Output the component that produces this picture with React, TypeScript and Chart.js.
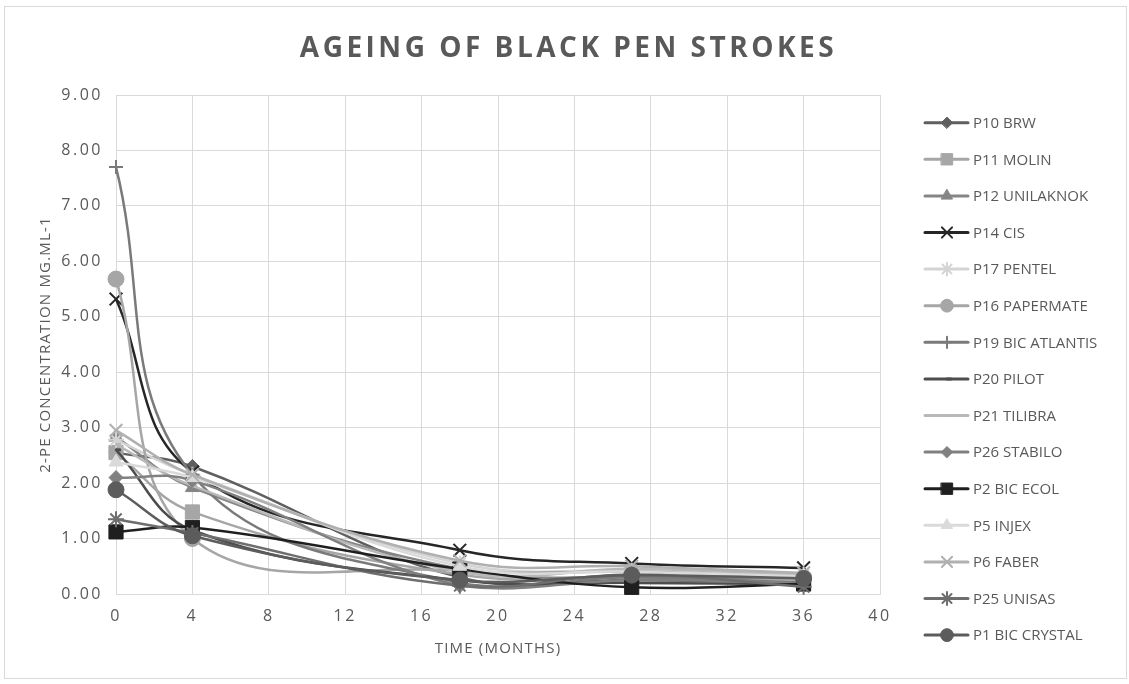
import React, { useEffect, useRef } from 'react';
import { Chart, registerables, PointElement } from 'chart.js';

Chart.register(...registerables);

// Sampling times (months)
const months = [0, 4, 18, 27, 36];

// 2-PE concentration (mg/mL) per pen, one value per sampling time
const p10Brw = [2.55, 2.3, 0.3, 0.25, 0.22];
const p11Molin = [2.55, 1.48, 0.35, 0.3, 0.25];
const p12Unilaknok = [2.83, 1.92, 0.45, 0.3, 0.3];
const p14Cis = [5.32, 2.2, 0.79, 0.55, 0.47];
const p17Pentel = [2.78, 2.15, 0.55, 0.42, 0.35];
const p16Papermate = [5.68, 1.0, 0.42, 0.4, 0.3];
const p19BicAtlantis = [7.7, 2.15, 0.2, 0.3, 0.2];
const p20Pilot = [2.6, 1.15, 0.25, 0.2, 0.18];
const p21Tilibra = [2.7, 1.95, 0.4, 0.45, 0.35];
const p26Stabilo = [2.1, 2.05, 0.15, 0.25, 0.2];
const p2BicEcol = [1.12, 1.2, 0.45, 0.12, 0.18];
const p5Injex = [2.38, 2.1, 0.5, 0.4, 0.32];
const p6Faber = [2.95, 2.15, 0.6, 0.5, 0.38];
const p25Unisas = [1.35, 1.1, 0.15, 0.35, 0.13];
const p1BicCrystal = [1.88, 1.05, 0.25, 0.34, 0.28];

const seriesNames = [
  'P10 BRW', 'P11 MOLIN', 'P12 UNILAKNOK', 'P14 CIS', 'P17 PENTEL',
  'P16 PAPERMATE', 'P19 BIC ATLANTIS', 'P20 PILOT', 'P21 TILIBRA', 'P26 STABILO',
  'P2 BIC ECOL', 'P5 INJEX', 'P6 FABER', 'P25 UNISAS', 'P1 BIC CRYSTAL',
];
const seriesValues = [
  p10Brw, p11Molin, p12Unilaknok, p14Cis, p17Pentel,
  p16Papermate, p19BicAtlantis, p20Pilot, p21Tilibra, p26Stabilo,
  p2BicEcol, p5Injex, p6Faber, p25Unisas, p1BicCrystal,
];

const chartTitle = 'AGEING OF BLACK PEN STROKES';
const xTitle = 'TIME (MONTHS)';
const yTitle = '2-PE CONCENTRATION MG.ML-1';

// Drawing styles (grey-scale palette and marker shapes)
const seriesStyles = [
  { color: '#5f5f5f', marker: 'rectRot', r: 7, bw: 1 },
  { color: '#a6a6a6', marker: 'rect', r: 10, bw: 1 },
  { color: '#858585', marker: 'triangle', r: 8, bw: 1 },
  { color: '#262626', marker: 'crossRot', r: 9, bw: 2 },
  { color: '#d4d4d4', marker: 'star', r: 8, bw: 2 },
  { color: '#a6a6a6', marker: 'circle', r: 8, bw: 1 },
  { color: '#7a7a7a', marker: 'cross', r: 7, bw: 2 },
  { color: '#4d4d4d', marker: 'dash', r: 5, bw: 3 },
  { color: '#b8b8b8', marker: 'dash', r: 5, bw: 3 },
  { color: '#808080', marker: 'rectRot', r: 7, bw: 1 },
  { color: '#1f1f1f', marker: 'rect', r: 10, bw: 1 },
  { color: '#dadada', marker: 'triangle', r: 8, bw: 1 },
  { color: '#b0b0b0', marker: 'crossRot', r: 9, bw: 2 },
  { color: '#6e6e6e', marker: 'star', r: 8, bw: 2 },
  { color: '#5c5c5c', marker: 'circle', r: 8, bw: 1 },
];

const W = 1129;
const H = 684;
const FONT = '"Open Sans", "Liberation Sans", sans-serif';
const TEXT = '#595959';
const GRID = '#d9d9d9';

const decorations = {
  id: 'decorations',
  beforeDraw(chart: any) {
    const ctx = chart.ctx;
    ctx.save();
    ctx.fillStyle = '#ffffff';
    ctx.fillRect(0, 0, W, H);
    ctx.strokeStyle = GRID;
    ctx.lineWidth = 1;
    ctx.strokeRect(4.5, 6.5, W - 7, H - 12);
    ctx.restore();
    // spaced-out tick labels
    ctx.letterSpacing = '2.5px';
  },
  beforeDatasetsDraw(chart: any) {
    chart.ctx.letterSpacing = '0px';
  },
  afterDraw(chart: any) {
    const ctx = chart.ctx;
    const area = chart.chartArea;
    ctx.save();
    ctx.fillStyle = TEXT;

    // title
    ctx.letterSpacing = '3.5px';
    ctx.font = `bold 28px ${FONT}`;
    ctx.textAlign = 'center';
    ctx.textBaseline = 'middle';
    ctx.fillText(chartTitle, W / 2 + 4, 49);

    // axis titles
    ctx.letterSpacing = '1.2px';
    ctx.font = `15px ${FONT}`;
    ctx.fillText(xTitle, (area.left + area.right) / 2, 649);
    ctx.save();
    ctx.translate(46, (area.top + area.bottom) / 2);
    ctx.rotate(-Math.PI / 2);
    ctx.fillText(yTitle, 0, 0);
    ctx.restore();

    // legend
    ctx.letterSpacing = '0px';
    const full = { left: 0, top: 0, right: W, bottom: H };
    seriesNames.forEach((name, i) => {
      const s = seriesStyles[i];
      const y = 122.7 + i * 36.6;
      ctx.strokeStyle = s.color;
      ctx.lineWidth = 3;
      ctx.lineCap = 'round';
      ctx.beginPath();
      ctx.moveTo(925, y);
      ctx.lineTo(968, y);
      ctx.stroke();
      const pt: any = new (PointElement as any)({
        x: 947,
        y,
        options: {
          pointStyle: s.marker,
          radius: s.r * 0.8,
          borderWidth: s.bw,
          backgroundColor: s.color,
          borderColor: s.color,
          rotation: 0,
        },
      });
      pt.draw(ctx, full);
      ctx.fillStyle = TEXT;
      ctx.font = `15px ${FONT}`;
      ctx.textAlign = 'left';
      ctx.textBaseline = 'middle';
      ctx.fillText(name, 973, y + 1);
    });
    ctx.restore();
  },
};

export default function App() {
  const canvasRef = useRef<HTMLCanvasElement | null>(null);

  useEffect(() => {
    const canvas = canvasRef.current;
    if (!canvas) return;
    const n = seriesNames.length;
    const chart = new Chart(canvas, {
      type: 'line',
      data: {
        datasets: seriesNames.map((name, i) => {
          const s = seriesStyles[i];
          return {
            label: name,
            data: months.map((m, j) => ({ x: m, y: seriesValues[i][j] })),
            borderColor: s.color,
            backgroundColor: s.color,
            borderWidth: 2.5,
            tension: 0.4,
            borderCapStyle: 'round',
            borderJoinStyle: 'round',
            pointStyle: s.marker,
            pointRadius: s.r,
            pointBorderWidth: s.bw,
            pointBackgroundColor: s.color,
            pointBorderColor: s.color,
            order: n - 1 - i,
            clip: { left: 12, top: 12, right: 12, bottom: 4 },
          } as any;
        }),
      },
      options: {
        responsive: false,
        animation: false,
        events: [],
        layout: { padding: { left: 0, top: 95, right: W - 880, bottom: 0 } },
        plugins: {
          legend: { display: false },
          title: { display: false },
          tooltip: { enabled: false },
        },
        scales: {
          x: {
            type: 'linear',
            min: 0,
            max: 40,
            ticks: {
              stepSize: 4,
              padding: 13,
              color: TEXT,
              font: { family: FONT, size: 16 },
              maxRotation: 0,
              autoSkip: false,
            },
            grid: { color: GRID, drawTicks: false, lineWidth: 1 },
            border: { color: GRID },
            afterFit: (s: any) => { s.height = H - 594; },
          },
          y: {
            min: 0,
            max: 9,
            ticks: {
              stepSize: 1,
              padding: 13,
              color: TEXT,
              font: { family: FONT, size: 16 },
              callback: (v: any) => Number(v).toFixed(2),
            },
            grid: { color: GRID, drawTicks: false, lineWidth: 1 },
            border: { color: GRID },
            afterFit: (s: any) => { s.width = 116; },
          },
        },
      } as any,
      plugins: [decorations],
    });
    return () => chart.destroy();
  }, []);

  return (
    <div style={{ position: 'absolute', left: 0, top: 0, width: W, height: H }}>
      <canvas ref={canvasRef} width={W} height={H} style={{ display: 'block' }} />
    </div>
  );
}
